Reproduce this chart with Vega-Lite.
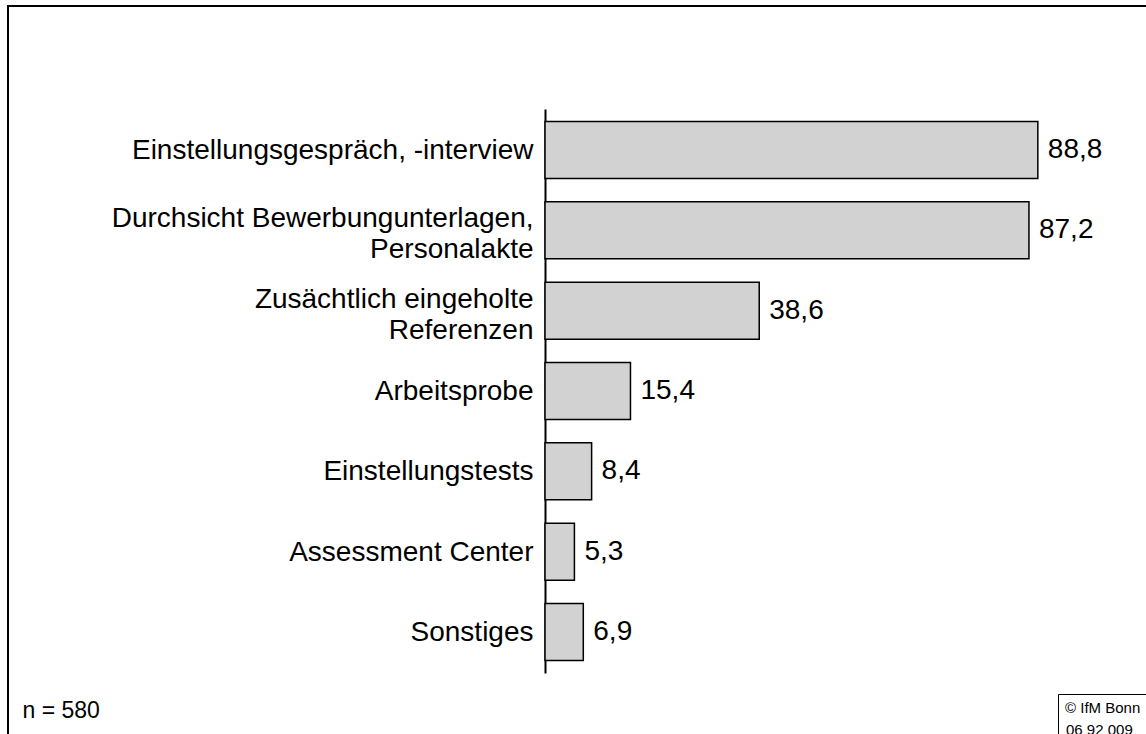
{
  "$schema": "https://vega.github.io/schema/vega-lite/v6.json",
  "width": 1160,
  "height": 740,
  "autosize": {"type": "none"},
  "padding": {"left": 8, "top": 6, "right": -22, "bottom": -12},
  "background": "white",
  "config": {
    "view": {"stroke": "#000000", "strokeWidth": 2},
    "font": "Liberation Sans",
    "locale": {"number": {"decimal": ",", "thousands": ".", "grouping": [3], "currency": ["", " €"]}}
  },
  "data": {
    "values": [
      {"item": "Einstellungsgespräch, -interview", "value": 88.8},
      {"item": "Durchsicht Bewerbungunterlagen,\nPersonalakte", "value": 87.2},
      {"item": "Zusächtlich eingeholte\nReferenzen", "value": 38.6},
      {"item": "Arbeitsprobe", "value": 15.4},
      {"item": "Einstellungstests", "value": 8.4},
      {"item": "Assessment Center", "value": 5.3},
      {"item": "Sonstiges", "value": 6.9}
    ]
  },
  "encoding": {
    "y": {
      "field": "item",
      "type": "nominal",
      "sort": null,
      "scale": {"range": [103, 667], "paddingInner": 0.29, "paddingOuter": 0.155},
      "axis": {
        "title": null,
        "orient": "left",
        "offset": -537,
        "domainColor": "#000000",
        "domainWidth": 2,
        "ticks": false,
        "labelPadding": 12,
        "labelFontSize": 28,
        "labelColor": "#000000",
        "labelLimit": 0,
        "labelLineHeight": 31,
        "labelOffset": {"condition": {"test": "test(/\\n/, datum.value)", "value": -11}, "value": 1},
        "labelExpr": "split(datum.label, '\\n')"
      }
    },
    "x": {
      "field": "value",
      "type": "quantitative",
      "scale": {"domain": [0, 100], "range": [537, 1092]},
      "axis": {
        "orient": "bottom",
        "domain": false,
        "ticks": false,
        "labels": false,
        "grid": false,
        "title": "n = 580",
        "titleFontSize": 23,
        "titleFontWeight": "normal",
        "titleColor": "#000000",
        "titleAlign": "left",
        "titleAnchor": null,
        "titleBaseline": "alphabetic",
        "titleX": 14,
        "titleY": -29
      }
    }
  },
  "layer": [
    {
      "mark": {"type": "bar", "fill": "#d2d2d2", "stroke": "#000000", "strokeWidth": 1.5},
      "encoding": {
        "opacity": {
          "datum": "06 92 009",
          "type": "nominal",
          "scale": {"range": [1]},
          "legend": {
            "title": "© IfM Bonn",
            "orient": "none",
            "legendX": 1050,
            "legendY": 688,
            "strokeColor": "#000000",
            "padding": 7,
            "titleFontSize": 15,
            "titleFontWeight": "normal",
            "titleColor": "#000000",
            "titlePadding": 6,
            "labelFontSize": 15,
            "labelColor": "#000000",
            "symbolSize": 0,
            "symbolOpacity": 0,
            "symbolStrokeWidth": 0,
            "labelOffset": -14
          }
        }
      }
    },
    {
      "mark": {"type": "text", "align": "left", "baseline": "middle", "dx": 10, "fontSize": 28, "color": "#000000"},
      "encoding": {
        "text": {"field": "value", "type": "quantitative", "format": ".1f"}
      }
    }
  ]
}
